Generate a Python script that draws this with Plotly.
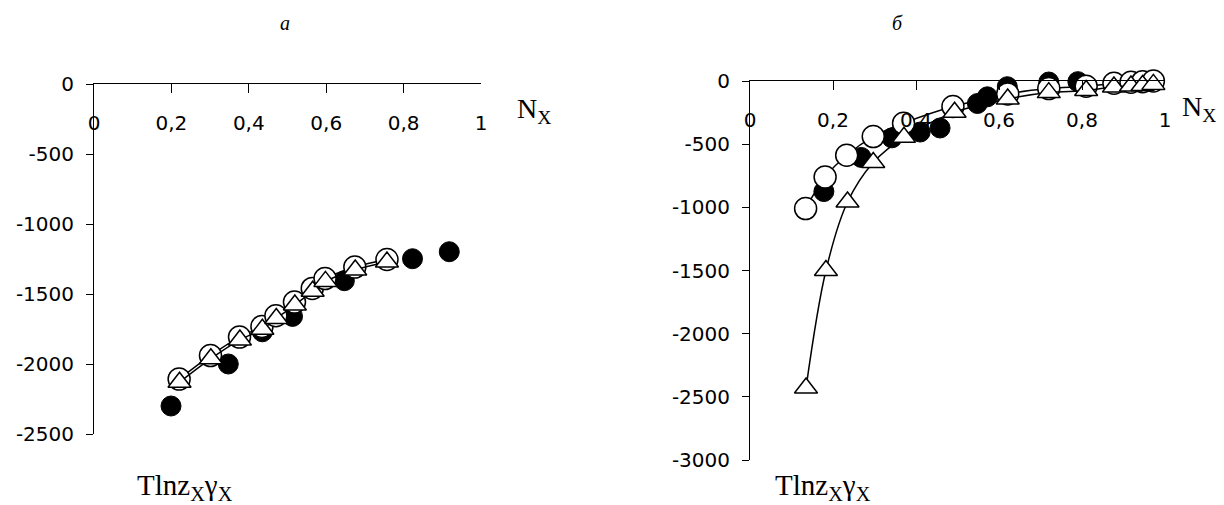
import plotly.graph_objects as go

# ---------------- data ----------------
# panel a
a_filled_x = [0.199, 0.347, 0.435, 0.513, 0.647, 0.823, 0.918]
a_filled_y = [-2300, -2000, -1770, -1660, -1405, -1248, -1198]
a_open_x = [0.220, 0.301, 0.376, 0.434, 0.470, 0.518, 0.564, 0.597, 0.674, 0.757]
a_open_y = [-2108, -1940, -1808, -1732, -1655, -1558, -1460, -1390, -1308, -1254]
a_tri_x = [0.221, 0.302, 0.377, 0.435, 0.471, 0.519, 0.565, 0.598, 0.675, 0.757]
a_tri_y = [-2130, -1962, -1828, -1752, -1675, -1578, -1480, -1410, -1328, -1272]

# panel b
b_filled_x = [0.178, 0.268, 0.342, 0.410, 0.458, 0.548, 0.572, 0.620, 0.720, 0.790]
b_filled_y = [-875, -605, -450, -404, -372, -178, -125, -45, -8, -5]
b_open_x = [0.134, 0.181, 0.233, 0.297, 0.370, 0.489, 0.621, 0.720, 0.810, 0.877, 0.918, 0.946, 0.972]
b_open_y = [-1010, -760, -588, -440, -334, -202, -102, -60, -42, -18, -10, -5, 0]
b_tri_x = [0.135, 0.183, 0.235, 0.297, 0.371, 0.493, 0.621, 0.720, 0.810, 0.877, 0.918, 0.946, 0.972]
b_tri_y = [-2430, -1500, -958, -645, -446, -248, -142, -92, -75, -47, -40, -35, -27]

x_tickvals = [0, 0.2, 0.4, 0.6, 0.8, 1]
x_ticktext = ["0", "0,2", "0,4", "0,6", "0,8", "1"]
a_y_tickvals = [0, -500, -1000, -1500, -2000, -2500]
a_y_ticktext = ["0", "-500", "-1000", "-1500", "-2000", "-2500"]
b_y_tickvals = [0, -500, -1000, -1500, -2000, -2500, -3000]
b_y_ticktext = ["0", "-500", "-1000", "-1500", "-2000", "-2500", "-3000"]

# the page has an 8px body margin: the figure starts at (8, 8) in the window
OFF = 8
W, H = 1224 - OFF, 505 - OFF
TICKFONT = dict(family="DejaVu Sans", size=20, color="black")
SERIF = "Liberation Serif"


def px_x(p):
    return (p - OFF) / W


def px_y(p):
    return 1 - (p - OFF) / H


fig = go.Figure()


def add_panel(xa, ya, fx, fy, ox, oy, tx, ty):
    fig.add_trace(go.Scatter(x=fx, y=fy, mode="markers", xaxis=xa, yaxis=ya,
                             cliponaxis=False,
                             marker=dict(symbol="circle", size=20, color="black",
                                         line=dict(color="black", width=1))))
    fig.add_trace(go.Scatter(x=ox, y=oy, mode="lines+markers", xaxis=xa, yaxis=ya,
                             cliponaxis=False,
                             line=dict(color="black", width=1.5, shape="spline", smoothing=1),
                             marker=dict(symbol="circle", size=22, color="white",
                                         line=dict(color="black", width=1.5))))
    fig.add_trace(go.Scatter(x=tx, y=ty, mode="lines+markers", xaxis=xa, yaxis=ya,
                             cliponaxis=False,
                             line=dict(color="black", width=1.5, shape="spline", smoothing=1),
                             marker=dict(symbol="triangle-up", size=20, color="white",
                                         line=dict(color="black", width=1.5))))


add_panel("x", "y", a_filled_x, a_filled_y, a_open_x, a_open_y, a_tri_x, a_tri_y)
add_panel("x2", "y2", b_filled_x, b_filled_y, b_open_x, b_open_y, b_tri_x, b_tri_y)


def xaxis_def(dom, anchor):
    return dict(domain=dom, range=[0, 1], anchor=anchor, side="top",
                automargin=False,
                showline=True, linecolor="black", linewidth=1,
                ticks="inside", ticklen=9, tickcolor="black", tickwidth=1,
                tickvals=x_tickvals, ticktext=x_ticktext,
                ticklabelposition="inside", ticklabelstandoff=24,
                ticklabeloverflow="allow",
                showgrid=False, zeroline=False, tickfont=TICKFONT)


def yaxis_def(dom, anchor, rng, vals, text):
    return dict(domain=dom, range=rng, anchor=anchor,
                automargin=False,
                showline=True, linecolor="black", linewidth=1,
                ticks="outside", ticklen=7, tickcolor="black", tickwidth=1,
                tickvals=vals, ticktext=text, ticklabelstandoff=8,
                showgrid=False, zeroline=False, tickfont=TICKFONT)


fig.update_layout(
    width=W, height=H,
    margin=dict(l=0, r=0, t=0, b=0, autoexpand=False),
    plot_bgcolor="white", paper_bgcolor="white",
    showlegend=False,
    xaxis=xaxis_def([px_x(94), px_x(481)], "y"),
    yaxis=yaxis_def([px_y(434), px_y(84)], "x", [-2500, 0], a_y_tickvals, a_y_ticktext),
    xaxis2=xaxis_def([px_x(750), px_x(1165)], "y2"),
    yaxis2=yaxis_def([px_y(460), px_y(81)], "x2", [-3000, 0], b_y_tickvals, b_y_ticktext),
)

ann = []
for xp, txt in [(285, "<i>а</i>"), (897, "<i>б</i>")]:
    ann.append(dict(x=px_x(xp), y=px_y(23), xref="paper", yref="paper", text=txt,
                    showarrow=False, xanchor="center", yanchor="middle",
                    font=dict(family=SERIF, size=20, color="black")))
for xp, yp in [(515, 110), (1180, 108)]:
    ann.append(dict(x=px_x(xp), y=px_y(yp), xref="paper", yref="paper",
                    text="N<sub>X</sub>", showarrow=False, xanchor="left", yanchor="middle",
                    font=dict(family=SERIF, size=28, color="black")))
for xp in [135, 773]:
    ann.append(dict(x=px_x(xp), y=px_y(487), xref="paper", yref="paper",
                    text="Tlnz<sub>X</sub>γ<sub>X</sub>", showarrow=False,
                    xanchor="left", yanchor="middle",
                    font=dict(family=SERIF, size=29, color="black")))
fig.update_layout(annotations=ann)

fig.write_html("out.html")
